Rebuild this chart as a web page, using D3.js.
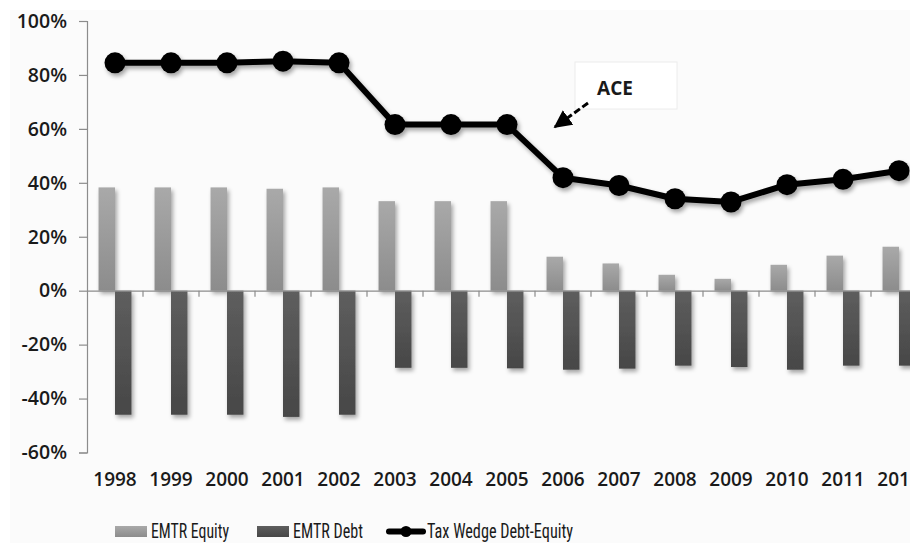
<!DOCTYPE html>
<html>
<head>
<meta charset="utf-8">
<script src="https://cdn.jsdelivr.net/npm/d3@7"></script>
<style>
  html, body { margin: 0; padding: 0; background: #ffffff; }
  svg { display: block; overflow: hidden; }
</style>
</head>
<body>
<svg id="chart" width="910" height="543"></svg>
<script>
// chart values
const years = ["1998", "1999", "2000", "2001", "2002", "2003", "2004", "2005", "2006", "2007", "2008", "2009", "2010", "2011", "2012"];
const emtrEquity = [38.3, 38.3, 38.3, 37.8, 38.3, 33.2, 33.2, 33.2, 12.6, 10.1, 5.9, 4.4, 9.6, 13.0, 16.3];
const emtrDebt = [-46.0, -46.0, -46.0, -46.8, -46.0, -28.6, -28.6, -28.8, -29.3, -28.9, -27.8, -28.3, -29.3, -27.8, -27.8];
const taxWedge = [84.5, 84.5, 84.5, 85.1, 84.5, 61.6, 61.6, 61.6, 41.9, 39.0, 34.1, 32.9, 39.3, 41.3, 44.5];
const yTicks = [-60, -40, -20, 0, 20, 40, 60, 80, 100];
const legendItems = ["EMTR Equity", "EMTR Debt", "Tax Wedge Debt-Equity"];
const note = "ACE";

const svg = d3.select("#chart");
const defs = svg.append("defs");

// soft shadow like the office chart
const shadow = defs.append("filter").attr("id", "shadow")
  .attr("x", "-50%").attr("y", "-50%").attr("width", "200%").attr("height", "200%");
shadow.append("feDropShadow")
  .attr("dx", 2).attr("dy", 3).attr("stdDeviation", 2.2)
  .attr("flood-color", "#000").attr("flood-opacity", 0.35);

function gradient(id, top, bottom) {
  const g = defs.append("linearGradient").attr("id", id)
    .attr("x1", 0).attr("y1", 0).attr("x2", 0).attr("y2", 1);
  g.append("stop").attr("offset", "0%").attr("stop-color", top);
  g.append("stop").attr("offset", "100%").attr("stop-color", bottom);
}
gradient("gEquity", "#a9a9a9", "#8c8c8c");
gradient("gDebt", "#5e5e5e", "#474747");

// chart area background
svg.append("rect").attr("x", 0).attr("y", 0).attr("width", 910).attr("height", 543).attr("fill", "#ffffff");
svg.append("rect").attr("x", 10).attr("y", 10).attr("width", 900).attr("height", 533).attr("fill", "#fbfbfb");

const left = 87;
const step = 56;

const x = d3.scaleBand()
  .domain(years)
  .range([left, left + step * years.length])
  .padding(0);

const xSub = d3.scaleBand()
  .domain(["equity", "debt"])
  .range([0, x.bandwidth()])
  .paddingInner(0)
  .paddingOuter(0.7);

const y = d3.scaleLinear()
  .domain([-60, 100])
  .range([452.5, 21]);

const tickFont = "'Open Sans', 'DejaVu Sans', sans-serif";

// y axis
const yAxis = svg.append("g")
  .attr("transform", `translate(${left},0)`)
  .call(d3.axisLeft(y).tickValues(yTicks).tickSize(8).tickPadding(12).tickFormat(d => d + "%"));
yAxis.select(".domain").attr("stroke", "#8c8c8c").attr("stroke-width", 1.2);
yAxis.selectAll(".tick line").attr("stroke", "#8c8c8c").attr("stroke-width", 1.2);
yAxis.selectAll(".tick text")
  .attr("fill", "#1a1a1a")
  .style("font-family", tickFont)
  .style("font-weight", 600)
  .style("font-size", "19.5px");

// bars
const rows = years.map((yr, i) => ({ year: yr, equity: emtrEquity[i], debt: emtrDebt[i], wedge: taxWedge[i] }));

const bars = svg.append("g").attr("filter", "url(#shadow)");
bars.selectAll("rect.eq")
  .data(rows)
  .enter()
  .append("rect")
  .attr("class", "eq")
  .attr("x", d => x(d.year) + xSub("equity"))
  .attr("width", xSub.bandwidth())
  .attr("y", d => y(d.equity))
  .attr("height", d => y(0) - y(d.equity))
  .attr("fill", "url(#gEquity)");

bars.selectAll("rect.debt")
  .data(rows)
  .enter()
  .append("rect")
  .attr("class", "debt")
  .attr("x", d => x(d.year) + xSub("debt"))
  .attr("width", xSub.bandwidth())
  .attr("y", y(0))
  .attr("height", d => y(d.debt) - y(0))
  .attr("fill", "url(#gDebt)");

// zero line with category ticks hanging below
const xAxis = svg.append("g")
  .attr("transform", `translate(0,${y(0)})`)
  .call(d3.axisBottom(x).tickSize(0).tickFormat(""));
xAxis.select(".domain").attr("stroke", "#8c8c8c").attr("stroke-width", 1.2);
xAxis.selectAll(".tick").remove();
xAxis.selectAll("line.sep")
  .data(years.slice(1))
  .enter()
  .append("line")
  .attr("class", "sep")
  .attr("x1", d => x(d)).attr("x2", d => x(d))
  .attr("y1", 0).attr("y2", 6)
  .attr("stroke", "#8c8c8c").attr("stroke-width", 1.2);

// year labels
svg.append("g").selectAll("text")
  .data(years)
  .enter()
  .append("text")
  .attr("x", d => x(d) + x.bandwidth() / 2)
  .attr("y", 486)
  .attr("text-anchor", "middle")
  .attr("fill", "#1a1a1a")
  .style("font-family", tickFont)
  .style("font-weight", 600)
  .style("font-size", "19px")
  .text(d => d);

// tax wedge line
const lineGen = d3.line()
  .x(d => x(d.year) + x.bandwidth() / 2)
  .y(d => y(d.wedge));

const lineG = svg.append("g").attr("filter", "url(#shadow)");
lineG.append("path")
  .datum(rows)
  .attr("d", lineGen)
  .attr("fill", "none")
  .attr("stroke", "#000")
  .attr("stroke-width", 6)
  .attr("stroke-linejoin", "round");
lineG.selectAll("circle")
  .data(rows)
  .enter()
  .append("circle")
  .attr("cx", d => x(d.year) + x.bandwidth() / 2)
  .attr("cy", d => y(d.wedge))
  .attr("r", 10.5)
  .attr("fill", "#000");

// ACE annotation
svg.append("rect")
  .attr("x", 575).attr("y", 62).attr("width", 102).attr("height", 47)
  .attr("fill", "#ffffff").attr("stroke", "#ececec").attr("stroke-width", 1);
svg.append("text")
  .attr("x", 615).attr("y", 95)
  .attr("text-anchor", "middle")
  .attr("fill", "#1a1a1a")
  .style("font-family", "'Open Sans', 'Liberation Sans', sans-serif")
  .style("font-weight", "bold")
  .style("font-size", "19px")
  .text(note);

defs.append("marker").attr("id", "arrowHead")
  .attr("viewBox", "0 0 10 10").attr("refX", 9).attr("refY", 5)
  .attr("markerWidth", 6).attr("markerHeight", 6)
  .attr("orient", "auto")
  .append("path").attr("d", "M0,0 L10,5 L0,10 Z").attr("fill", "#000");
svg.append("line")
  .attr("x1", 588).attr("y1", 103).attr("x2", 555).attr("y2", 127)
  .attr("stroke", "#000").attr("stroke-width", 3)
  .attr("stroke-dasharray", "7,3")
  .attr("marker-end", "url(#arrowHead)");

// legend
const legend = svg.append("g").style("font-family", "'Liberation Sans Narrow', 'Roboto Condensed', 'Liberation Sans', sans-serif");
const legendY = 538;
legend.append("rect").attr("x", 115).attr("y", 526).attr("width", 32).attr("height", 11).attr("fill", "url(#gEquity)");
legend.append("rect").attr("x", 257).attr("y", 526).attr("width", 32).attr("height", 11).attr("fill", "url(#gDebt)");
legend.append("line").attr("x1", 389).attr("x2", 423).attr("y1", 531.5).attr("y2", 531.5)
  .attr("stroke", "#000").attr("stroke-width", 6).attr("stroke-linecap", "round");
legend.append("circle").attr("cx", 406).attr("cy", 531.5).attr("r", 5.5).attr("fill", "#000");

const legendX = [151, 293, 427];
const legendW = [78, 70, 146];
legend.selectAll("text.lg")
  .data(legendItems)
  .enter()
  .append("text")
  .attr("class", "lg")
  .attr("x", (d, i) => legendX[i])
  .attr("y", legendY)
  .attr("fill", "#1a1a1a")
  .style("font-size", "21px")
  .attr("textLength", (d, i) => legendW[i])
  .attr("lengthAdjust", "spacingAndGlyphs")
  .text(d => d);
</script>
</body>
</html>
